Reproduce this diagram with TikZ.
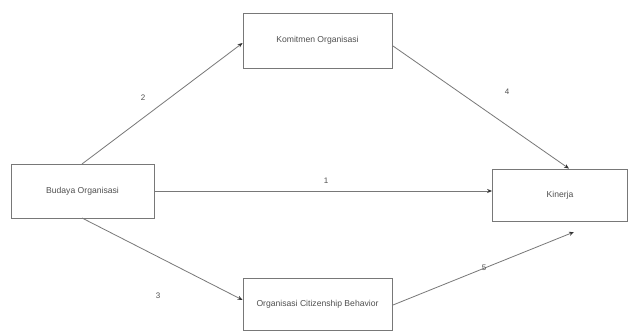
\documentclass[tikz,border=0pt]{standalone}
\usepackage{fontspec}
\setmainfont{Liberation Sans}
\usetikzlibrary{arrows.meta}
\definecolor{boxgray}{RGB}{120,120,120}
\definecolor{txtgray}{RGB}{80,80,80}
\begin{document}
\begin{tikzpicture}[x=1pt,y=-1pt,
  vbox/.style={draw=boxgray,line width=0.8pt,fill=white,inner sep=0pt,font=\fontsize{8.6}{10}\selectfont,text=txtgray},
  conn/.style={draw=boxgray,line width=0.8pt,-{Stealth[length=5pt,width=4pt,color=black!80]}},
  lbl/.style={font=\fontsize{8}{9}\selectfont,text=txtgray,inner sep=1pt}]
\useasboundingbox (0,0) rectangle (629,331);
\fill[white] (0,0) rectangle (629,331);
\node[vbox,minimum width=143pt,minimum height=54pt] (bo) at (82.5,191) {Budaya Organisasi};
\node[vbox,minimum width=149pt,minimum height=55pt] (ko) at (317.5,40.5) {Komitmen Organisasi};
\node[vbox,minimum width=149pt,minimum height=52pt] (ocb) at (317.5,304) {Organisasi Citizenship Behavior};
\node[vbox,minimum width=135pt,minimum height=52pt] (ki) at (560,195) {Kinerja};
\coordinate (bo-t) at (82,164);
\coordinate (bo-b) at (82,218);
\coordinate (ko-r) at (393,46);
\coordinate (ocb-r) at (393,305);
\coordinate (ki-end5) at (574,232);
\draw[conn] (bo-t) -- (ko.west |- 0,43) coordinate (e2);
\draw[conn] (ko-r) -- (ki.north -| 569,0);
\draw[conn] (bo.east) -- (ki.west |- bo.east);
\draw[conn] (bo-b) -- (ocb.west |- 0,300);
\draw[conn] (ocb-r) -- (ki-end5);
\node[lbl] (l2) at (143,98) {2};
\node[lbl] (l4) at (507,92) {4};
\node[lbl] (l1) at (326,181) {1};
\node[lbl] (l3) at (158,296) {3};
\node[lbl] (l5) at (484,268) {5};
\end{tikzpicture}
\end{document}
